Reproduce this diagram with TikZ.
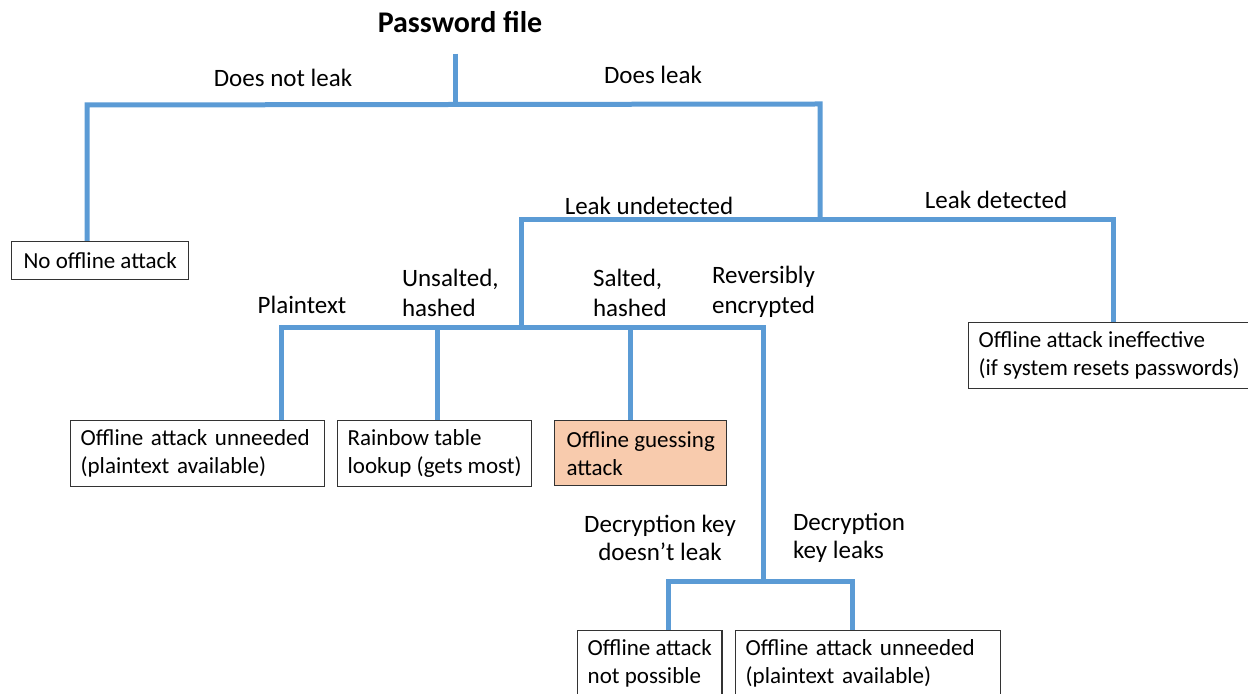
\documentclass[tikz,border=0pt]{standalone}
\usepackage{fontspec}
\setmainfont{Carlito}
\usetikzlibrary{positioning}
\definecolor{branch}{HTML}{5B9BD5}
\definecolor{hilite}{HTML}{F8CBAD}

\begin{document}
\begin{tikzpicture}[x=.5pt,y=-.5pt,
  edge/.style={draw=branch,line width=2.5pt,line join=miter},
  leaf/.style={draw=black!80,line width=.7pt,anchor=north west,align=left,inner xsep=5pt,font=\fontsize{11.5}{14}\selectfont},
  lbl/.style={align=left,font=\fontsize{12.5}{15}\selectfont}]
\useasboundingbox (0,0) rectangle (1248,694);
\node[font=\fontsize{15}{18}\selectfont\bfseries] (pw) at (460,22) {Password file};
% leaves
\node[leaf,minimum width=88.5pt,minimum height=19pt] (nooff) at (11,241) {No offline attack};
\node[leaf,minimum width=139pt,minimum height=33pt] (inef) at (968,322) {Offline attack ineffective\\(if system resets passwords)};
\node[leaf,minimum width=127pt,minimum height=33pt,text width=117pt] (unn1) at (70,420) {Offline attack unneeded\\(plaintext available)};
\node[leaf,minimum width=95pt,minimum height=33pt] (rain) at (337,420) {Rainbow table\\lookup (gets most)};
\node[leaf,fill=hilite,minimum width=86pt,minimum height=32.5pt] (guess) at (554,420) {Offline guessing\\attack};
\node[leaf,minimum width=72pt,minimum height=33pt] (notp) at (577,630) {Offline attack\\not possible};
\node[leaf,minimum width=132.5pt,minimum height=33pt,text width=122.5pt] (unn2) at (735,630) {Offline attack unneeded\\(plaintext available)};
% branch points
\coordinate (top) at (455,104);\coordinate (nl) at (87,105);\coordinate (dl) at (820,104);
\coordinate (ud) at (521,220);\coordinate (dt) at (1113,220);
\coordinate (pl) at (281,328);\coordinate (uh) at (437,328);\coordinate (sh) at (630,328);\coordinate (re) at (763,328);
\coordinate (dk) at (763,582);\coordinate (dn) at (668,582);\coordinate (dy) at (852,582);
% tree
\draw[edge,shorten <=7pt] (pw.south -| top) -- (top);
\draw[edge] (nl |- nooff.north) -- (nl) -- (dl) -- (dl |- ud);
\draw[edge] (ud |- pl) -- (ud) -- (dt) -- (dt |- inef.north);
\draw[edge] (pl |- unn1.north) -- (pl) -- (re) -- (dk);
\foreach \c/\b in {uh/rain,sh/guess}{\draw[edge] (\c) -- (\c |- \b.north);}
\draw[edge] (dn |- notp.north) -- (dn) -- (dy) -- (dy |- unn2.north);
% labels
\node[lbl] (l1) at (283,78) {Does not leak};\node[lbl] (l2) at (653,75) {Does leak};
\node[lbl] (l3) at (649,206) {Leak undetected};\node[lbl] (l4) at (996,200) {Leak detected};
\node[lbl] (l5) at (302,305) {Plaintext};
\node[lbl,anchor=west] (l6) at (395,293) {Unsalted,\\hashed};
\node[lbl,anchor=west] (l7) at (586,293) {Salted,\\hashed};
\node[lbl,anchor=west] (l8) at (705,292) {Reversibly\\encrypted};
\node[lbl,align=center,font=\fontsize{12.5}{14}\selectfont] (l9) at (660,538) {Decryption key\\doesn’t leak};
\node[lbl,anchor=west,font=\fontsize{12.5}{14}\selectfont] (l10) at (786,538) {Decryption\\key leaks};
\end{tikzpicture}
\end{document}
